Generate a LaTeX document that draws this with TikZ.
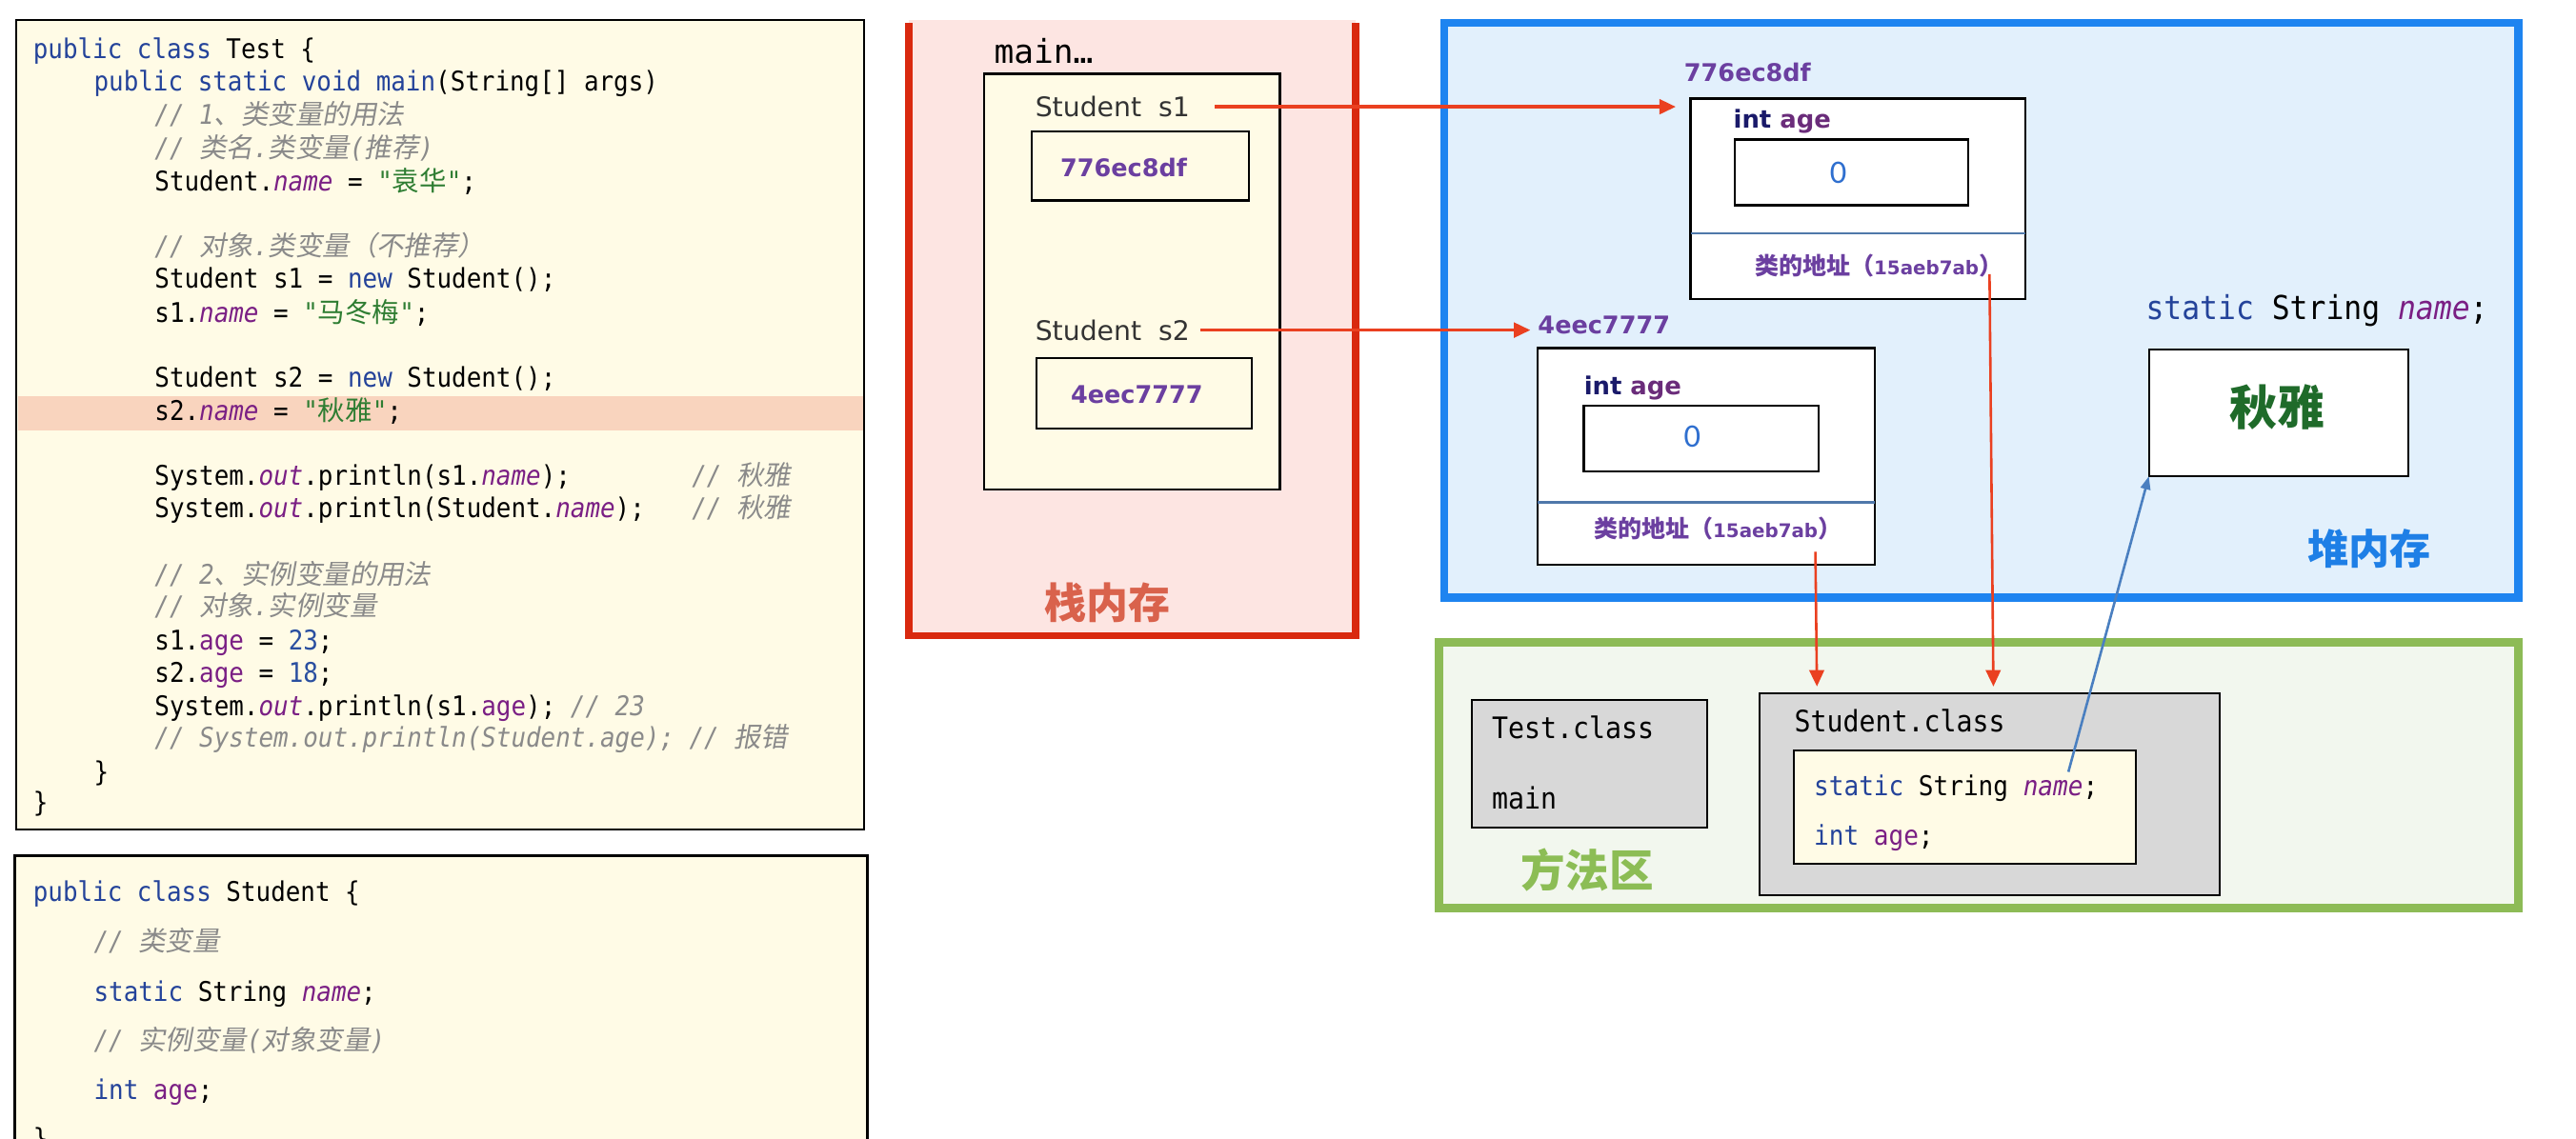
\documentclass[tikz,border=0pt]{standalone}
\usepackage{fontspec}
\usetikzlibrary{arrows.meta}
\newfontfamily\codef[FakeStretch=0.91]{DejaVu Sans Mono}
\newfontfamily\monof{DejaVu Sans Mono}
\newfontfamily\cjkf{Noto Sans CJK SC}
\newfontfamily\cjkif[FakeSlant=0.18]{Noto Sans CJK SC}
\newfontfamily\vsf{DejaVu Sans}
\newfontfamily\calf{Carlito}
\definecolor{codebg}{HTML}{FFFBE6}
\definecolor{hl}{HTML}{F9D4BE}
\definecolor{kwc}{HTML}{24439A}
\definecolor{fdc}{HTML}{7A1F84}
\definecolor{strc}{HTML}{2E7D32}
\definecolor{cmc}{HTML}{8A8A8A}
\definecolor{numc}{HTML}{2A4FA0}
\definecolor{stackbg}{HTML}{FDE5E2}
\definecolor{stackbd}{HTML}{D9290F}
\definecolor{stacktx}{HTML}{D9624C}
\definecolor{heapbg}{HTML}{E2F0FC}
\definecolor{heapbd}{HTML}{1E84F0}
\definecolor{heaptx}{HTML}{1E7FE6}
\definecolor{methbg}{HTML}{F2F7EE}
\definecolor{methbd}{HTML}{8DBB56}
\definecolor{methtx}{HTML}{8CBD55}
\definecolor{grayb}{HTML}{D8D8D8}
\definecolor{addr}{HTML}{6B3FA0}
\definecolor{zeroc}{HTML}{2F6FCF}
\definecolor{arrc}{HTML}{EA4020}
\definecolor{bluearrc}{HTML}{4A7FC0}
\definecolor{sepc}{HTML}{4F78AA}
\definecolor{qiuyac}{HTML}{1F6B2A}
\definecolor{navyc}{HTML}{1A1A6A}
\definecolor{agec}{HTML}{6A2C7A}
\definecolor{graytx}{HTML}{333333}
\newcommand\Ckw[1]{\textcolor{kwc}{#1}}
\newcommand\Cfd[1]{\textcolor{fdc}{\itshape #1}}
\newcommand\Cag[1]{\textcolor{fdc}{#1}}
\newcommand\Cstr[1]{\textcolor{strc}{#1}}
\newcommand\Ccm[1]{\textcolor{cmc}{\itshape #1}}
\newcommand\Cnum[1]{\textcolor{numc}{#1}}
\newcommand\Czh[1]{{\cjkf #1}}
\newcommand\Czi[1]{{\cjkif #1}}
\begin{document}
\begin{tikzpicture}[x=1pt,y=-1pt,
  code/.style={anchor=base west, inner sep=0pt, font=\codef\fontsize{16.5}{20}\selectfont, text=black},
  rbox/.style={anchor=north west, inner sep=0pt, outer sep=0pt, draw=black, line width=1.3pt},
  cbox/.style={rbox, fill=codebg},
  wbox/.style={rbox, fill=white},
  gbox/.style={rbox, fill=grayb},
  lbl/.style={inner sep=0pt},
  redarr/.style={draw=arrc, line width=1.9pt, -{Triangle[length=10pt,width=9pt]}},
  redarr2/.style={draw=arrc, line width=1.5pt, -{Triangle[length=10pt,width=9pt]}},
  bluearr/.style={draw=bluearrc, line width=1.5pt, -{Triangle[length=8pt,width=6pt]}},
  sepline/.style={draw=sepc, line width=1.4pt}
]
\useasboundingbox (0,0) rectangle (1568,693);
\clip (0,0) rectangle (1568,693);
\fill[white] (0,0) rectangle (1568,693);

% ---------- code box 1 ----------
\node[cbox, minimum width=516, minimum height=493] (cb1) at (10,12) {};
\fill[hl] (10.8,241) rectangle (525.2,262);
\node[code] (l1) at (20,35.5) {\Ckw{public class} Test \{};
\node[code] (l2) at (57,55.5) {\Ckw{public static void main}(String[] args)};
\node[code] (l3) at (94,75.5) {\Ccm{// 1\Czi{、类变量的用法}}};
\node[code] (l4) at (94,96) {\Ccm{// \Czi{类名}.\Czi{类变量}(\Czi{推荐})}};
\node[code] (l5) at (94,116) {Student.\Cfd{name} = \Cstr{"\Czh{袁华}"};};
\node[code] (l7) at (94,155.5) {\Ccm{// \Czi{对象}.\Czi{类变量（不推荐）}}};
\node[code] (l8) at (94,175.5) {Student s1 = \Ckw{new} Student();};
\node[code] (l9) at (94,196) {s1.\Cfd{name} = \Cstr{"\Czh{马冬梅}"};};
\node[code] (l11) at (94,235.5) {Student s2 = \Ckw{new} Student();};
\node[code] (l12) at (94,256) {s2.\Cfd{name} = \Cstr{"\Czh{秋雅}"};};
\node[code] (l14) at (94,295.5) {System.\Cfd{out}.println(s1.\Cfd{name});};
\node[code] (l14c) at (421,295.5) {\Ccm{// \Czi{秋雅}}};
\node[code] (l15) at (94,315) {System.\Cfd{out}.println(Student.\Cfd{name});};
\node[code] (l15c) at (421,315) {\Ccm{// \Czi{秋雅}}};
\node[code] (l17) at (94,355.5) {\Ccm{// 2\Czi{、实例变量的用法}}};
\node[code] (l18) at (94,375) {\Ccm{// \Czi{对象}.\Czi{实例变量}}};
\node[code] (l19) at (94,396) {s1.\Cag{age} = \Cnum{23};};
\node[code] (l20) at (94,415.5) {s2.\Cag{age} = \Cnum{18};};
\node[code] (l21) at (94,435.5) {System.\Cfd{out}.println(s1.\Cag{age}); \Ccm{// 23}};
\node[code] (l22) at (94,455) {\Ccm{// System.out.println(Student.age); // \Czi{报错}}};
\node[code] (l23) at (57,475.5) {\}};
\node[code] (l24) at (20,494.5) {\}};

% ---------- code box 2 ----------
\node[cbox, minimum width=519, minimum height=200] (cb2) at (9,521) {};
\node[code] (m1) at (20,549) {\Ckw{public class} Student \{};
\node[code] (m2) at (57,579) {\Ccm{// \Czi{类变量}}};
\node[code] (m3) at (57,609.5) {\Ckw{static} String \Cfd{name};};
\node[code] (m4) at (57,639.5) {\Ccm{// \Czi{实例变量}(\Czi{对象变量})}};
\node[code] (m5) at (57,669.5) {\Ckw{int} \Cag{age};};
\node[code] (m6) at (20,699) {\}};

% ---------- stack ----------
\fill[stackbg] (553,12) rectangle (825,388);
\draw[stackbd, line width=4.5pt] (553,14) -- (553,387) -- (825,387) -- (825,14);
\node[lbl, anchor=west, font=\monof\fontsize{20}{24}\selectfont] (mainlbl) at (605,31) {main…};
\node[cbox, minimum width=180, minimum height=253] (frame) at (599,45) {};
\node[lbl, anchor=west, text=graytx, font=\vsf\fontsize{16.4}{20}\selectfont] (s1) at (630,65) {Student\ \ s1};
\node[cbox, minimum width=132, minimum height=42] (sb1) at (628,80) {};
\node[lbl, text=addr, font=\vsf\bfseries\fontsize{14.8}{18}\selectfont] (sb1t) at (684,102) {776ec8df};
\node[lbl, anchor=west, text=graytx, font=\vsf\fontsize{16.4}{20}\selectfont] (s2) at (630,201) {Student\ \ s2};
\node[cbox, minimum width=131, minimum height=43] (sb2) at (631,218) {};
\node[lbl, text=addr, font=\vsf\bfseries\fontsize{14.8}{18}\selectfont] (sb2t) at (692,240) {4eec7777};
\node[lbl, text=stacktx, font=\cjkf\bfseries\fontsize{25.5}{30}\selectfont] (stk) at (674,367) {栈内存};

% ---------- heap ----------
\node[rbox, draw=heapbd, fill=heapbg, line width=5pt, minimum width=654, minimum height=350] (heap) at (879,14) {};
\node[lbl, anchor=west, text=addr, font=\vsf\bfseries\fontsize{14.8}{18}\selectfont] (o1lbl) at (1025,44) {776ec8df};
\node[wbox, minimum width=204, minimum height=122] (obj1) at (1029,60) {};
\node[lbl, anchor=west, font=\vsf\bfseries\fontsize{15}{18}\selectfont] (o1age) at (1055,74) {\textcolor{navyc}{int} \textcolor{agec}{age}};
\node[wbox, minimum width=142, minimum height=40] (in1) at (1056,85) {};
\node[lbl, text=zeroc, font=\calf\fontsize{20}{24}\selectfont] (z1) at (1119,105) {0};
\draw[sepline] (1029,142) -- (1233,142);
\node[lbl, anchor=west, text=addr] (o1cls) at (1068,162) {{\cjkf\bfseries\fontsize{14.5}{17}\selectfont 类的地址（}{\vsf\bfseries\fontsize{11.5}{14}\selectfont 15aeb7ab}{\cjkf\bfseries\fontsize{14.5}{17}\selectfont ）}};

\node[lbl, anchor=west, text=addr, font=\vsf\bfseries\fontsize{14.8}{18}\selectfont] (o2lbl) at (936,198) {4eec7777};
\node[wbox, minimum width=205, minimum height=132] (obj2) at (936,212) {};
\node[lbl, anchor=west, font=\vsf\bfseries\fontsize{15}{18}\selectfont] (o2age) at (964,236) {\textcolor{navyc}{int} \textcolor{agec}{age}};
\node[wbox, minimum width=143, minimum height=40] (in2) at (964,247) {};
\node[lbl, text=zeroc, font=\calf\fontsize{20}{24}\selectfont] (z2) at (1030,266) {0};
\draw[sepline] (936,306) -- (1141,306);
\node[lbl, anchor=west, text=addr] (o2cls) at (970,322) {{\cjkf\bfseries\fontsize{14.5}{17}\selectfont 类的地址（}{\vsf\bfseries\fontsize{11.5}{14}\selectfont 15aeb7ab}{\cjkf\bfseries\fontsize{14.5}{17}\selectfont ）}};

\node[lbl, anchor=west, font=\codef\fontsize{20}{24}\selectfont] (sname) at (1306,189) {\Ckw{static} String \Cfd{name};};
\node[wbox, minimum width=158, minimum height=77] (qy) at (1308,213) {};
\node[lbl, text=qiuyac, font=\cjkf\bfseries\fontsize{29}{34}\selectfont] (qyt) at (1386,248) {秋雅};
\node[lbl, text=heaptx, font=\cjkf\bfseries\fontsize{25}{30}\selectfont] (hp) at (1442,334) {堆内存};

% ---------- method area ----------
\node[rbox, draw=methbd, fill=methbg, line width=5pt, minimum width=657, minimum height=162] (meth) at (876,391) {};
\node[gbox, minimum width=143, minimum height=78] (tcls) at (896,426) {};
\node[lbl, anchor=west, font=\codef\fontsize{18}{22}\selectfont] (tclst) at (908,443) {Test.class};
\node[lbl, anchor=west, font=\codef\fontsize{18}{22}\selectfont] (tmain) at (908,486) {main};
\node[gbox, minimum width=280, minimum height=123] (scls) at (1071,422) {};
\node[lbl, anchor=west, font=\codef\fontsize{18}{22}\selectfont] (sclst) at (1092,439) {Student.class};
\node[cbox, minimum width=208, minimum height=69] (sin) at (1092,457) {};
\node[lbl, anchor=west, font=\codef\fontsize{16.6}{20}\selectfont] (sin1) at (1104,480) {\Ckw{static} String \Cfd{name};};
\node[lbl, anchor=west, font=\codef\fontsize{16.6}{20}\selectfont] (sin2) at (1104,510) {\Ckw{int} \Cag{age};};
\node[lbl, text=methtx, font=\cjkf\bfseries\fontsize{27}{32}\selectfont] (mt) at (966,530) {方法区};

% ---------- connectors ----------
\coordinate (d1s) at (1211,167);
\coordinate (d1e) at (1213.4,422);
\coordinate (d2s) at (1105,336);
\coordinate (d2e) at (1106,422);
\coordinate (bs) at (1259,470);
\draw[redarr, shorten <=15pt, shorten >=9pt] (s1.east) -- (s1.east -| obj1.west);
\draw[redarr, shorten <=6pt, shorten >=4.5pt] (s2.east) -- (s2.east -| obj2.west);
\draw[redarr2, shorten >=4pt] (d1s) -- (d1e);
\draw[redarr2, shorten >=4pt] (d2s) -- (d2e);
\draw[bluearr] (bs) -- (qy.south west);
\end{tikzpicture}
\end{document}
